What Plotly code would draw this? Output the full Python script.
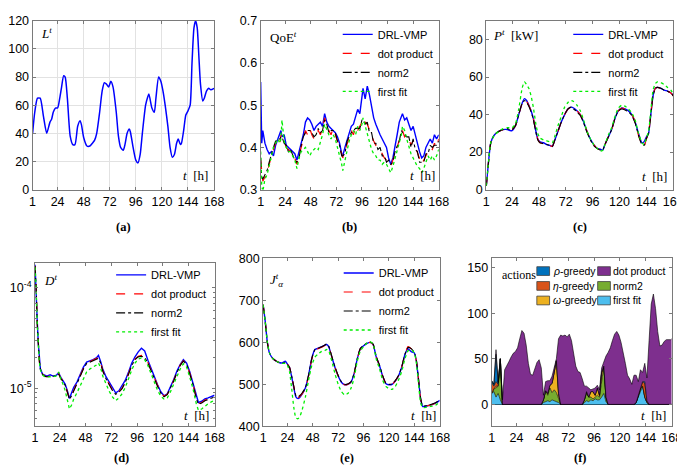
import plotly.graph_objects as go

W, H = 685, 467
def px(x): return x / W
def py(y): return 1 - y / H

SANS = "Liberation Sans, Arial, sans-serif"
SERIF = "Liberation Serif, Times New Roman, serif"

hour_ticks = [1, 24, 48, 72, 96, 120, 144, 168]
hour_labels = ["1", "24", "48", "72", "96", "120", "144", "168"]

# ---------------- (a) load L^t ----------------
tA = [1, 3, 5.5, 8, 11, 14, 17, 18.5, 20, 22,
      24, 26, 27.5, 29.6, 31, 33, 35.6, 38, 40, 42.5,
      44.7, 46, 48, 51, 53.7, 56, 58, 60, 62.7, 65,
      67, 69, 71, 73, 75, 78, 80, 82, 84.5, 86,
      88, 90, 91, 93.5, 96, 98, 100, 102, 105, 107,
      108, 110.8, 113, 114.5, 117, 119, 121, 123, 125.5, 127.5,
      129.6, 131.5, 133.5, 135, 137, 138, 140, 142, 144, 146,
      147.7, 149.5, 151, 152.5, 154, 155.5, 157.6, 159, 161, 163,
      165, 168]
L_load = [40, 55, 65, 65, 52, 40, 48, 50, 55, 58,
          58, 65, 72, 81, 80, 65, 38, 32, 32, 45,
          49, 46, 37, 31, 31, 33, 35, 40, 55, 70,
          76, 75, 73, 77, 73, 55, 38, 30, 28, 32,
          40, 43, 41, 30, 21, 19, 25, 40, 60, 66,
          68, 58, 55, 65, 80, 77, 70, 60, 45, 30,
          23, 25, 33, 36, 32, 33, 42, 53, 56, 60,
          90, 115, 120, 115, 95, 75, 63, 65, 70, 72,
          71, 72]

# ---------------- (b) QoE^t ----------------
tB = [1, 2, 3, 5, 7, 9, 11, 13, 15, 17,
      19, 20, 21, 23, 25, 27, 29, 31, 33, 35,
      37, 39, 41, 43, 45, 47, 49, 51, 53, 55,
      57, 59, 61, 63, 65, 67, 69, 71, 73, 75,
      77, 78, 80, 82, 84, 86, 88, 90, 92, 94,
      96, 97, 99, 101, 103, 105, 107, 109, 111, 113,
      115, 117, 119, 121, 123, 125, 127, 129, 131, 133,
      134, 136, 138, 140, 142, 144, 146, 148, 150, 152,
      154, 156, 158, 160, 162, 164, 166, 168]
qoe_drl = [0.555, 0.41, 0.44, 0.41, 0.395, 0.385, 0.39, 0.38, 0.405, 0.42,
           0.43, 0.44, 0.425, 0.43, 0.405, 0.40, 0.395, 0.39, 0.385, 0.37,
           0.39, 0.405, 0.43, 0.46, 0.47, 0.465, 0.455, 0.44, 0.45, 0.455,
           0.46, 0.45, 0.48, 0.46, 0.45, 0.445, 0.44, 0.435, 0.425, 0.41,
           0.385, 0.38, 0.40, 0.415, 0.43, 0.45, 0.455, 0.475, 0.49, 0.48,
           0.52, 0.54, 0.515, 0.545, 0.525, 0.50, 0.47, 0.455, 0.44, 0.43,
           0.42, 0.41, 0.40, 0.375, 0.36, 0.375, 0.40, 0.43, 0.46, 0.475,
           0.48, 0.465, 0.47, 0.455, 0.44, 0.45, 0.43, 0.405, 0.39, 0.375,
           0.38, 0.40, 0.41, 0.42, 0.41, 0.43, 0.42, 0.43]
qoe_dot = [0.37, 0.335, 0.32, 0.33, 0.34, 0.36, 0.38, 0.395, 0.41, 0.42,
           0.41, 0.43, 0.42, 0.415, 0.40, 0.395, 0.39, 0.385, 0.375, 0.36,
           0.38, 0.40, 0.42, 0.44, 0.43, 0.445, 0.43, 0.42, 0.435, 0.44,
           0.43, 0.445, 0.47, 0.45, 0.44, 0.43, 0.445, 0.43, 0.42, 0.40,
           0.385, 0.375, 0.39, 0.41, 0.42, 0.44, 0.43, 0.45, 0.44, 0.45,
           0.46, 0.47, 0.46, 0.455, 0.44, 0.43, 0.415, 0.405, 0.40, 0.395,
           0.385, 0.375, 0.37, 0.365, 0.355, 0.37, 0.385, 0.40, 0.42, 0.435,
           0.44, 0.425, 0.43, 0.42, 0.405, 0.415, 0.40, 0.385, 0.37, 0.36,
           0.37, 0.38, 0.39, 0.40, 0.395, 0.41, 0.40, 0.42]
qoe_norm2 = [0.375, 0.33, 0.325, 0.335, 0.345, 0.365, 0.385, 0.40, 0.415, 0.415,
             0.42, 0.425, 0.425, 0.41, 0.405, 0.39, 0.395, 0.38, 0.37, 0.365,
             0.375, 0.405, 0.425, 0.435, 0.44, 0.44, 0.435, 0.425, 0.43, 0.445,
             0.435, 0.44, 0.465, 0.455, 0.435, 0.44, 0.44, 0.435, 0.415, 0.405,
             0.38, 0.38, 0.385, 0.415, 0.425, 0.435, 0.44, 0.445, 0.445, 0.445,
             0.465, 0.465, 0.455, 0.46, 0.435, 0.435, 0.41, 0.41, 0.395, 0.40,
             0.38, 0.38, 0.365, 0.37, 0.36, 0.365, 0.39, 0.405, 0.415, 0.44,
             0.435, 0.43, 0.425, 0.425, 0.40, 0.42, 0.395, 0.39, 0.365, 0.365,
             0.365, 0.385, 0.385, 0.405, 0.40, 0.405, 0.405, 0.415]
qoe_ff = [0.39, 0.31, 0.295, 0.325, 0.335, 0.355, 0.38, 0.40, 0.41, 0.42,
          0.41, 0.42, 0.465, 0.415, 0.40, 0.39, 0.39, 0.38, 0.37, 0.35,
          0.375, 0.39, 0.395, 0.40, 0.39, 0.38, 0.39, 0.395, 0.40, 0.395,
          0.41, 0.43, 0.455, 0.44, 0.43, 0.42, 0.43, 0.42, 0.40, 0.385,
          0.36, 0.345, 0.37, 0.39, 0.415, 0.43, 0.44, 0.43, 0.45, 0.44,
          0.455, 0.47, 0.45, 0.43, 0.41, 0.395, 0.385, 0.38, 0.37, 0.37,
          0.36, 0.365, 0.36, 0.35, 0.34, 0.355, 0.375, 0.395, 0.415, 0.43,
          0.45, 0.44, 0.42, 0.40, 0.385, 0.375, 0.365, 0.355, 0.35, 0.34,
          0.35, 0.365, 0.38, 0.37, 0.38, 0.37, 0.38, 0.395]

# ---------------- (c) power P^t [kW] ----------------
tC = [1, 3, 5, 8, 12, 16, 20, 22, 24, 27,
      30, 33, 35, 37, 39, 41, 43, 45, 47, 49,
      52, 55, 58, 60, 62, 65, 68, 71, 74, 77,
      79, 82, 85, 88, 91, 94, 97, 100, 103, 105,
      107, 110, 113, 116, 119, 122, 125, 128, 131, 134,
      137, 140, 142, 144, 146, 148, 150, 152, 154, 157,
      160, 163, 166, 168]
p_drl = [2, 15, 25, 29, 31, 32, 32, 31.5, 31.5, 34,
         40, 46, 48.5, 47.5, 45, 42, 38, 32, 27, 25.5,
         25, 24, 23.5, 23, 26, 31, 36, 40, 43, 44,
         43.5, 42, 40, 36, 31, 27, 24, 22, 21.5, 21,
         24, 28, 32, 38, 42, 43.5, 43, 42, 40, 36,
         30, 25, 25.5, 28, 30, 40, 50, 54, 54.5, 54,
         53, 52.5, 51.5, 50.5]
p_dot = [2, 15, 25, 29, 31, 32, 32.5, 32.5, 32, 34,
         40, 46, 48, 47, 45, 42, 38, 32, 27, 25,
         24.5, 24, 23.5, 23, 26, 31, 36, 40, 43, 44,
         43.5, 42, 40, 36, 31, 27, 24, 22, 21, 21,
         24, 28, 32, 38, 42, 43.5, 43, 42, 40, 36,
         29, 24, 23, 27, 30, 40, 50, 54, 54.5, 54,
         53, 52.5, 51.5, 50]
p_norm2 = [2, 15, 25, 29, 31, 32, 32.5, 32, 32, 34,
           40, 46, 47.5, 46.5, 44.5, 41.5, 37.5, 31.5, 26.5, 25,
           24.5, 24, 23.5, 23, 26, 31, 36, 40, 43, 44,
           43, 41.5, 39.5, 35.5, 30.5, 26.5, 23.5, 22, 21, 21,
           24, 28, 32, 38, 42, 43, 42.5, 41.5, 39.5, 35.5,
           29, 24, 23.5, 27, 30, 40, 50, 54, 54.5, 54,
           53, 52.5, 51.5, 50]
p_ff = [2, 15, 25, 29, 31, 32.5, 33, 33, 33, 35,
        43, 54, 57.5, 56, 54, 50, 44, 36, 30, 27.5,
        26.5, 26, 25.5, 25, 28, 34, 39, 44, 46.5, 47.5,
        47, 45, 42, 37, 31, 27, 24, 22, 20.5, 21,
        24, 29, 33, 39, 43.5, 45, 44.5, 43, 41, 37,
        30, 25, 24, 27.5, 31, 42, 53, 56.5, 57.5, 57,
        56, 54.5, 53, 51]

# ---------------- (d) D^t (log) ----------------
tD = [1, 2, 3, 4, 5, 6, 8, 10, 12, 15,
      18, 21, 23, 25, 27, 29, 31, 33, 35, 37,
      40, 43, 46, 49, 52, 55, 58, 60, 62, 64,
      67, 70, 73, 76, 79, 82, 85, 88, 91, 94,
      97, 100, 103, 106, 109, 112, 115, 118, 121, 124,
      127, 130, 133, 136, 139, 142, 145, 148, 151, 153,
      156, 159, 162, 165, 168]
d_drl = [17e-5, 10.5e-5, 4.8e-5, 2.8e-5, 1.9e-5, 1.55e-5, 1.38e-5, 1.35e-5, 1.32e-5, 1.36e-5,
         1.32e-5, 1.35e-5, 1.42e-5, 1.28e-5, 1.2e-5, 1.1e-5, 0.95e-5, 0.79e-5, 0.9e-5, 1.02e-5,
         1.15e-5, 1.38e-5, 1.62e-5, 1.82e-5, 1.86e-5, 1.92e-5, 2.0e-5, 2.12e-5, 1.85e-5, 1.55e-5,
         1.3e-5, 1.15e-5, 1.0e-5, 0.9e-5, 0.94e-5, 1.05e-5, 1.2e-5, 1.45e-5, 1.78e-5, 2.05e-5,
         2.3e-5, 2.5e-5, 2.35e-5, 1.9e-5, 1.55e-5, 1.28e-5, 1.08e-5, 0.92e-5, 0.84e-5, 0.88e-5,
         1.02e-5, 1.22e-5, 1.48e-5, 1.72e-5, 1.92e-5, 1.78e-5, 1.45e-5, 1.12e-5, 0.82e-5, 0.72e-5,
         0.74e-5, 0.78e-5, 0.8e-5, 0.82e-5, 0.85e-5]
d_dot = [16.5e-5, 10.4e-5, 4.6e-5, 2.7e-5, 1.86e-5, 1.55e-5, 1.38e-5, 1.32e-5, 1.3e-5, 1.32e-5,
         1.3e-5, 1.33e-5, 1.4e-5, 1.25e-5, 1.18e-5, 1.08e-5, 0.93e-5, 0.78e-5, 0.85e-5, 0.95e-5,
         1.1e-5, 1.3e-5, 1.58e-5, 1.78e-5, 1.84e-5, 1.9e-5, 1.95e-5, 2.02e-5, 1.8e-5, 1.5e-5,
         1.25e-5, 1.1e-5, 0.96e-5, 0.88e-5, 0.92e-5, 1.0e-5, 1.15e-5, 1.4e-5, 1.7e-5, 1.95e-5,
         2.08e-5, 2.12e-5, 2.05e-5, 1.8e-5, 1.5e-5, 1.25e-5, 1.05e-5, 0.9e-5, 0.83e-5, 0.87e-5,
         1.0e-5, 1.2e-5, 1.45e-5, 1.7e-5, 1.88e-5, 1.75e-5, 1.4e-5, 1.1e-5, 0.8e-5, 0.7e-5,
         0.72e-5, 0.76e-5, 0.78e-5, 0.8e-5, 0.83e-5]
d_norm2 = [16.5e-5, 10.3e-5, 4.6e-5, 2.7e-5, 1.85e-5, 1.55e-5, 1.37e-5, 1.31e-5, 1.3e-5, 1.31e-5,
           1.31e-5, 1.32e-5, 1.38e-5, 1.24e-5, 1.17e-5, 1.07e-5, 0.92e-5, 0.77e-5, 0.84e-5, 0.94e-5,
           1.08e-5, 1.28e-5, 1.55e-5, 1.76e-5, 1.82e-5, 1.88e-5, 1.93e-5, 1.98e-5, 1.78e-5, 1.48e-5,
           1.24e-5, 1.09e-5, 0.95e-5, 0.87e-5, 0.91e-5, 0.99e-5, 1.14e-5, 1.38e-5, 1.68e-5, 1.93e-5,
           2.05e-5, 2.08e-5, 2.02e-5, 1.78e-5, 1.48e-5, 1.24e-5, 1.04e-5, 0.89e-5, 0.82e-5, 0.86e-5,
           0.99e-5, 1.18e-5, 1.43e-5, 1.68e-5, 1.86e-5, 1.73e-5, 1.38e-5, 1.08e-5, 0.79e-5, 0.69e-5,
           0.71e-5, 0.75e-5, 0.77e-5, 0.79e-5, 0.82e-5]
d_ff = [16.0e-5, 10.0e-5, 4.5e-5, 2.6e-5, 1.82e-5, 1.52e-5, 1.36e-5, 1.3e-5, 1.29e-5, 1.3e-5,
        1.3e-5, 1.33e-5, 1.45e-5, 1.22e-5, 1.1e-5, 0.95e-5, 0.76e-5, 0.62e-5, 0.68e-5, 0.78e-5,
        0.9e-5, 1.05e-5, 1.25e-5, 1.45e-5, 1.55e-5, 1.62e-5, 1.7e-5, 1.78e-5, 1.6e-5, 1.32e-5,
        1.1e-5, 0.93e-5, 0.82e-5, 0.75e-5, 0.8e-5, 0.88e-5, 1.02e-5, 1.25e-5, 1.52e-5, 1.78e-5,
        1.95e-5, 2.0e-5, 1.92e-5, 1.68e-5, 1.38e-5, 1.12e-5, 0.95e-5, 0.83e-5, 0.78e-5, 0.8e-5,
        0.92e-5, 1.1e-5, 1.32e-5, 1.55e-5, 1.75e-5, 1.62e-5, 1.28e-5, 0.98e-5, 0.7e-5, 0.6e-5,
        0.62e-5, 0.66e-5, 0.7e-5, 0.73e-5, 0.76e-5]

# ---------------- (e) J_alpha^t ----------------
tE = [1, 3, 5, 7, 10, 13, 16, 19, 22, 24,
      26, 28, 30, 32, 34, 36, 38, 41, 44, 47,
      50, 53, 56, 59, 61, 63, 66, 69, 72, 75,
      78, 81, 84, 87, 90, 93, 96, 99, 102, 105,
      108, 111, 114, 117, 120, 123, 126, 129, 132, 135,
      138, 141, 144, 146, 148, 150, 152, 155, 158, 161,
      164, 168]
j_drl = [690, 650, 600, 575, 562, 556, 552, 551, 555, 548,
         540, 518, 492, 470, 466, 470, 477, 492, 522, 562,
         583, 586, 589, 593, 595, 590, 565, 540, 520, 505,
         499, 500, 505, 525, 560, 585, 592, 597, 600, 595,
         565, 545, 520, 502, 499, 500, 508, 520, 540, 570,
         585, 578, 575, 555, 510, 465, 447, 448, 450, 452,
         455, 462]
j_dot = [690, 650, 600, 575, 562, 556, 552, 550, 552, 548,
         540, 520, 495, 472, 468, 472, 478, 490, 520, 560,
         582, 585, 588, 592, 595, 590, 565, 540, 520, 505,
         499, 500, 505, 525, 560, 585, 592, 597, 600, 595,
         565, 545, 520, 502, 499, 500, 508, 520, 540, 570,
         590, 585, 575, 555, 510, 465, 447, 448, 450, 452,
         455, 462]
j_norm2 = [690, 650, 600, 575, 562, 556, 552, 550, 552, 547,
           540, 520, 495, 473, 470, 474, 480, 492, 522, 561,
           583, 586, 589, 593, 596, 591, 566, 541, 521, 506,
           500, 501, 506, 526, 561, 586, 593, 598, 601, 596,
           566, 546, 521, 503, 500, 501, 509, 521, 541, 571,
           588, 585, 576, 556, 511, 466, 448, 449, 451, 453,
           456, 463]
j_ff = [690, 650, 600, 575, 562, 556, 552, 550, 550, 545,
        530, 490, 445, 420, 418, 425, 440, 470, 510, 545,
        565, 572, 578, 580, 583, 580, 555, 525, 500, 483,
        475, 478, 490, 515, 555, 580, 590, 598, 602, 596,
        560, 538, 510, 495, 490, 488, 495, 510, 530, 560,
        580, 582, 575, 550, 500, 455, 445, 445, 447, 448,
        450, 458]

# ---------------- (f) actions (stacked) ----------------
tF = [1, 3, 5, 7, 9, 11, 13, 15, 17, 19,
      21, 23, 25, 27, 29, 31, 33, 35, 37, 39,
      41, 43, 45, 47, 49, 51, 53, 55, 57, 59,
      61, 63, 65, 67, 69, 71, 73, 75, 77, 79,
      81, 83, 85, 87, 89, 91, 93, 95, 97, 99,
      101, 103, 105, 107, 109, 111, 113, 115, 117, 119,
      121, 123, 125, 127, 129, 131, 133, 135, 137, 139,
      141, 143, 145, 147, 149, 151, 153, 155, 157, 159,
      161, 163, 165, 167, 168]
act_first_fit = [12, 14, 8, 12, 5, 0, 0, 0, 0, 0,
                 0, 0, 0, 0, 0, 0, 0, 0, 0, 0,
                 0, 0, 0, 0, 2, 3, 4, 3, 5, 4,
                 3, 2, 0, 0, 0, 0, 0, 0, 0, 0,
                 0, 0, 0, 2, 4, 3, 5, 4, 6, 5,
                 5, 8, 12, 3, 0, 0, 0, 0, 0, 0,
                 0, 0, 0, 0, 0, 0, 0, 2, 8, 15,
                 20, 8, 2, 0, 0, 0, 0, 0, 0, 0,
                 0, 0, 0, 0, 0]
act_norm2 = [0, 3, 10, 8, 45, 0, 0, 0, 0, 0,
             0, 0, 0, 0, 0, 0, 0, 0, 0, 0,
             0, 0, 0, 0, 3, 12, 6, 15, 8, 12,
             10, 5, 0, 0, 0, 0, 0, 0, 0, 0,
             0, 0, 0, 3, 8, 5, 3, 2, 2, 5,
             3, 15, 30, 5, 0, 0, 0, 0, 0, 0,
             0, 0, 0, 0, 0, 0, 0, 0, 2, 3,
             0, 0, 0, 0, 0, 0, 0, 0, 0, 0,
             0, 0, 0, 0, 0]
act_omega = [0, 0, 2, 0, 0, 0, 0, 0, 0, 0,
             0, 0, 0, 0, 0, 0, 0, 0, 0, 0,
             0, 0, 0, 0, 0, 0, 2, 3, 10, 20,
             35, 5, 0, 0, 0, 0, 0, 0, 0, 0,
             0, 0, 0, 0, 2, 0, 6, 8, 2, 8,
             2, 12, 0, 0, 0, 0, 0, 0, 0, 0,
             0, 0, 0, 0, 0, 0, 0, 0, 0, 0,
             0, 0, 0, 0, 0, 0, 0, 0, 0, 0,
             0, 0, 0, 0, 0]
act_eta = [12, 3, 5, 2, 0, 0, 0, 0, 0, 0,
           0, 0, 0, 0, 0, 0, 0, 0, 0, 0,
           0, 0, 0, 0, 0, 0, 0, 0, 0, 0,
           0, 0, 0, 0, 0, 0, 0, 0, 0, 0,
           0, 0, 0, 0, 0, 0, 0, 0, 0, 0,
           0, 0, 0, 0, 0, 0, 0, 0, 0, 0,
           0, 0, 0, 0, 0, 0, 0, 0, 0, 0,
           5, 15, 2, 0, 0, 0, 0, 0, 0, 0,
           0, 0, 0, 0, 0]
act_rho = [2, 2, 30, 2, 0, 0, 0, 0, 0, 0,
           0, 0, 0, 0, 0, 0, 0, 0, 0, 0,
           0, 0, 0, 0, 0, 0, 0, 0, 0, 0,
           0, 0, 0, 0, 0, 0, 0, 0, 0, 0,
           0, 0, 0, 0, 0, 0, 0, 0, 0, 0,
           0, 0, 0, 0, 0, 0, 0, 0, 0, 0,
           0, 0, 0, 0, 0, 0, 0, 0, 0, 0,
           0, 2, 0, 0, 0, 0, 0, 0, 0, 0,
           0, 0, 0, 0, 0]
act_dot = [0, 0, 5, 0, 0, 5, 38, 42, 47, 52,
           56, 58, 62, 72, 81, 78, 65, 45, 33, 32,
           38, 46, 49, 40, 5, 10, 14, 5, 8, 4,
           2, 60, 76, 75, 76, 74, 77, 70, 55, 42,
           36, 35, 28, 15, 6, 10, 2, 3, 8, 3,
           6, 5, 5, 45, 57, 62, 70, 77, 80, 76,
           68, 58, 45, 32, 28, 22, 32, 30, 15, 20,
           10, 20, 25, 70, 110, 121, 105, 80, 64, 65,
           69, 71, 71, 71, 72]

series_names = ["DRL-VMP", "dot product", "norm2", "first fit"]
series_styles = [dict(color="#0000ff", dash="solid", width=1.4),
                 dict(color="#ff0000", dash="dash", width=1.2),
                 dict(color="#000000", dash="dashdot", width=1.1),
                 dict(color="#00ee00", dash="dot", width=1.3)]

# subplot boxes in pixels: (left, right, top, bottom)
boxes = {
    1: (22, 207, 6, 180),
    2: (254.5, 436, 6, 180),
    3: (484.5, 675, 6, 180),
    4: (24.5, 207.5, 256, 424),
    5: (257, 437, 251, 424),
    6: (490, 673.5, 251, 424),
}

fig = go.Figure()

def xy(i):
    return ("x" if i == 1 else f"x{i}"), ("y" if i == 1 else f"y{i}")

# (a)
xa, ya = xy(1)
fig.add_trace(go.Scatter(x=tA, y=L_load, mode="lines", line=dict(color="#0000ff", width=1.5, shape="spline", smoothing=0.6),
                         xaxis=xa, yaxis=ya, showlegend=False))

def add_four(i, t, ys, legend_name, spline=False):
    xa_, ya_ = xy(i)
    for name, yv, st in zip(series_names, ys, series_styles):
        ln = dict(st)
        if spline:
            ln["shape"] = "spline"
            ln["smoothing"] = 0.5
        fig.add_trace(go.Scatter(x=t, y=yv, mode="lines", name=name, line=ln,
                                 xaxis=xa_, yaxis=ya_, legend=legend_name))

add_four(2, tB, [qoe_drl, qoe_dot, qoe_norm2, qoe_ff], "legend")
add_four(3, tC, [p_drl, p_dot, p_norm2, p_ff], "legend2", spline=True)
add_four(4, tD, [d_drl, d_dot, d_norm2, d_ff], "legend3")
add_four(5, tE, [j_drl, j_dot, j_norm2, j_ff], "legend4", spline=True)

# (f) stacked areas, bottom -> top
stack = [("first fit", act_first_fit, "#4DBEEE"),
         ("norm2", act_norm2, "#77AC30"),
         ("ω-greedy", act_omega, "#EDB120"),
         ("η-greedy", act_eta, "#D95319"),
         ("ρ-greedy", act_rho, "#0072BD"),
         ("dot product", act_dot, "#7E2F8E")]
xf, yf = xy(6)
for name, vals, col in stack:
    fig.add_trace(go.Scatter(x=tF, y=vals, mode="lines", stackgroup="actions", name=name,
                             line=dict(color="black", width=0.6), fillcolor=col,
                             xaxis=xf, yaxis=yf, showlegend=False))

axis_common = dict(showline=True, linecolor="#7a7a7a", linewidth=1, mirror="ticks",
                   ticks="inside", ticklen=3, tickcolor="#7a7a7a", zeroline=False,
                   tickfont=dict(family=SANS, size=12.5, color="black"))

layout = dict(width=W, height=H, margin=dict(l=0, r=0, t=0, b=0),
              paper_bgcolor="white", plot_bgcolor="white", showlegend=True)

yranges = {1: [0, 120], 2: [0.3, 0.7], 3: [0, 90], 5: [400, 800], 6: [-24, 160]}
ytickv = {1: [0, 20, 40, 60, 80, 100, 120], 2: [0.3, 0.4, 0.5, 0.6, 0.7],
          3: [0, 20, 40, 60, 80], 5: [400, 500, 600, 700, 800], 6: [0, 50, 100, 150]}

for i, (l, r, t, b) in boxes.items():
    xk = "xaxis" if i == 1 else f"xaxis{i}"
    yk = "yaxis" if i == 1 else f"yaxis{i}"
    xa_, ya_ = xy(i)
    grid = (i == 1)
    layout[xk] = dict(axis_common, domain=[px(l), px(r)], anchor=ya_, range=[1, 168],
                      tickmode="array", tickvals=hour_ticks, ticktext=hour_labels,
                      showgrid=grid, gridcolor="#e2e2e2")
    if i == 4:
        layout[yk] = dict(axis_common, domain=[py(b), py(t)], anchor=xa_, type="log",
                          range=[-5.38, -3.756], tickmode="array", tickvals=[1e-5, 1e-4],
                          ticktext=["10<sup>-5</sup>", "10<sup>-4</sup>"], showgrid=False,
                          minor=dict(ticks="inside", ticklen=2, tickcolor="#7a7a7a",
                                     tickvals=[5e-6, 6e-6, 7e-6, 8e-6, 9e-6, 2e-5, 3e-5, 4e-5,
                                               5e-5, 6e-5, 7e-5, 8e-5, 9e-5], showgrid=False))
    else:
        layout[yk] = dict(axis_common, domain=[py(b), py(t)], anchor=xa_, range=yranges[i],
                          tickmode="array", tickvals=ytickv[i], showgrid=grid, gridcolor="#e2e2e2")
layout["yaxis6"]["zeroline"] = True
layout["yaxis6"]["zerolinecolor"] = "black"
layout["yaxis6"]["zerolinewidth"] = 1

leg_common = dict(bgcolor="rgba(0,0,0,0)", borderwidth=0, font=dict(family=SANS, size=11, color="black"),
                  itemwidth=30, tracegroupgap=0, traceorder="normal",
                  xanchor="right", yanchor="top", xref="paper", yref="paper")
layout["legend"] = dict(leg_common, x=px(436), y=py(5))
layout["legend2"] = dict(leg_common, x=px(671), y=py(5))
layout["legend3"] = dict(leg_common, x=px(205), y=py(253))
layout["legend4"] = dict(leg_common, x=px(437), y=py(251))

def ann(text, x, y, size=13, xanchor="left", family=SERIF):
    return dict(text=text, x=px(x), y=py(y), xref="paper", yref="paper", showarrow=False,
                xanchor=xanchor, yanchor="middle", font=dict(family=family, size=size, color="black"))

th = "<i>t</i>&nbsp;&nbsp;[h]"
annotations = [
    ann("<i>L</i><sup><i>t</i></sup>", 29, 19),
    ann(th, 203, 165, xanchor="right"),
    ann("QoE<sup><i>t</i></sup>", 262, 23),
    ann(th, 434, 165, xanchor="right"),
    ann("<i>P</i><sup><i>t</i></sup>&nbsp;&nbsp;[kW]", 489, 21),
    ann(th, 671, 167, xanchor="right"),
    ann("<i>D</i><sup><i>t</i></sup>", 32, 273),
    ann(th, 204, 413, xanchor="right"),
    ann("<i>J</i><sup><i>t</i></sup><sub><i>α</i></sub>", 262, 273),
    ann(th, 435, 413, xanchor="right"),
    ann("actions", 498, 268, size=12),
    ann(th, 670, 413, xanchor="right"),
    ann("<b>(a)</b>", 114.5, 219, size=12.5, xanchor="center"),
    ann("<b>(b)</b>", 345, 219, size=12.5, xanchor="center"),
    ann("<b>(c)</b>", 580, 219, size=12.5, xanchor="center"),
    ann("<b>(d)</b>", 113, 457, size=12.5, xanchor="center"),
    ann("<b>(e)</b>", 342, 457, size=12.5, xanchor="center"),
    ann("<b>(f)</b>", 581, 457, size=12.5, xanchor="center"),
]

# (f) legend key: two columns of square swatches with labels
legend_f = [("<i>ρ</i>-greedy", "#0072BD", 0, 0), ("<i>η</i>-greedy", "#D95319", 0, 1),
            ("<i>ω</i>-greedy", "#EDB120", 0, 2), ("dot product", "#7E2F8E", 1, 0),
            ("norm2", "#77AC30", 1, 1), ("first fit", "#4DBEEE", 1, 2)]
shapes = []
col_x = [536, 598]
row_y = [264, 279.3, 294.3]
for label, col, c, rr in legend_f:
    x0 = col_x[c]
    yc = row_y[rr]
    shapes.append(dict(type="rect", xref="paper", yref="paper", x0=px(x0), x1=px(x0 + 13),
                       y0=py(yc + 4.5), y1=py(yc - 4.5), fillcolor=col,
                       line=dict(color="#404040", width=0.8)))
    annotations.append(ann(label, x0 + 14, yc, size=10.5, family=SANS))

layout["annotations"] = annotations
layout["shapes"] = shapes
fig.update_layout(**layout)

fig.write_html("out.html")
